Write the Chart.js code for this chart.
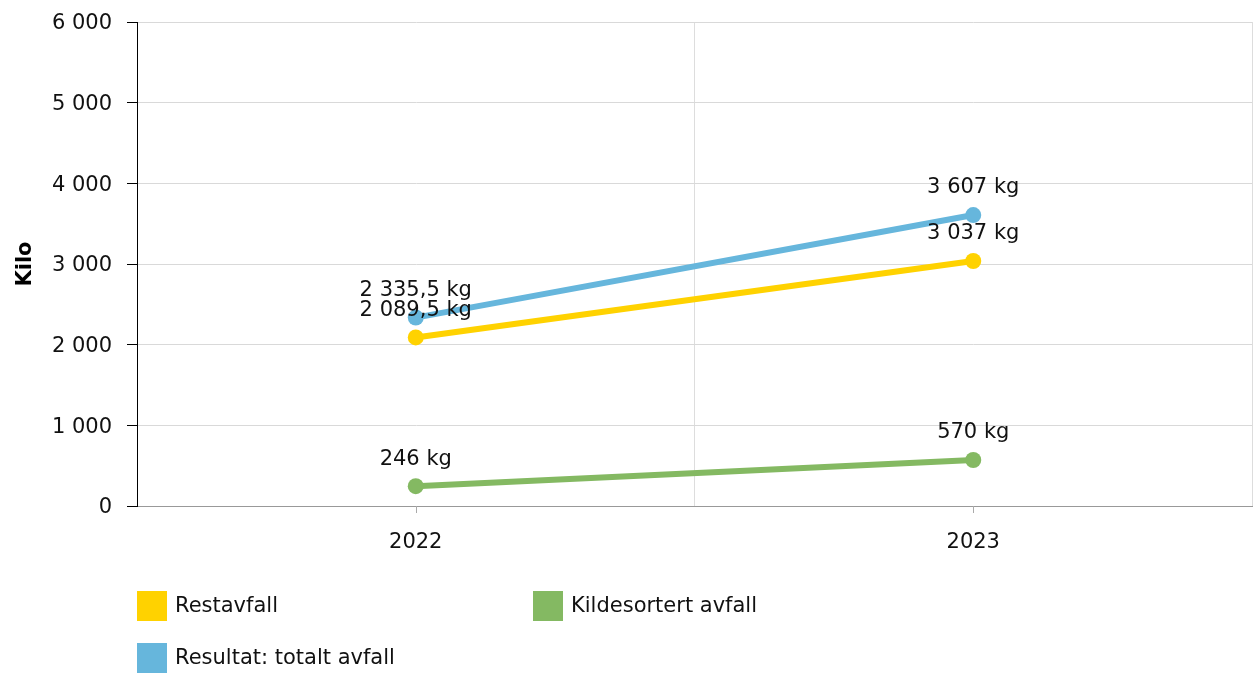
<!DOCTYPE html>
<html>
<head>
<meta charset="utf-8">
<script src="https://cdn.jsdelivr.net/npm/chart.js@4/dist/chart.umd.min.js"></script>
<style>
  html, body { margin: 0; padding: 0; background: #fff; }
  canvas { display: block; }
</style>
</head>
<body>
<canvas id="chart" width="1254" height="673"></canvas>
<script>
const years = ['2022', '2023']
const restavfall = [2089.5, 3037]
const kildesortert = [246, 570]
const totalt = [2335.5, 3607]
const yTicks = [0, 1000, 2000, 3000, 4000, 5000, 6000]

const FONT = '"DejaVu Sans", Verdana, sans-serif'
const SIZE = 21

// 2 335,5 style numbers
function fmt(v) {
  const parts = String(v).split('.')
  const int = parts[0].replace(/\B(?=(\d{3})+(?!\d))/g, ' ')
  return parts[1] ? int + ',' + parts[1] : int
}

const valueLabels = {
  id: 'valueLabels',
  afterDatasetsDraw(chart) {
    const ctx = chart.ctx
    ctx.save()
    ctx.font = SIZE + 'px ' + FONT
    ctx.fillStyle = '#111'
    ctx.textAlign = 'center'
    ctx.textBaseline = 'middle'
    chart.data.datasets.forEach((ds, i) => {
      chart.getDatasetMeta(i).data.forEach((pt, j) => {
        ctx.fillText(fmt(ds.data[j]) + ' kg', pt.x, pt.y - 27)
      })
    })
    ctx.restore()
  },
}

// tick marks under the categories + legend in two columns
const extras = {
  id: 'extras',
  afterDraw(chart) {
    const ctx = chart.ctx
    const x = chart.scales.x
    ctx.save()
    ctx.strokeStyle = '#aaa'
    ctx.lineWidth = 1
    years.forEach((y, i) => {
      const px = Math.round(x.getPixelForValue(i)) + 0.5
      ctx.beginPath()
      ctx.moveTo(px, x.top)
      ctx.lineTo(px, x.top + 7)
      ctx.stroke()
    })

    const slots = [[137, 591], [533, 591], [137, 643]]
    ctx.font = SIZE + 'px ' + FONT
    ctx.textBaseline = 'middle'
    ctx.textAlign = 'left'
    chart.data.datasets.forEach((ds, i) => {
      const [lx, ly] = slots[i]
      ctx.fillStyle = ds.borderColor
      ctx.fillRect(lx, ly, 30, 30)
      ctx.fillStyle = '#111'
      ctx.fillText(ds.label, lx + 38, ly + 16)
    })
    ctx.restore()
  },
}

function series(label, data, color) {
  return {
    label,
    data,
    borderColor: color,
    backgroundColor: color,
    borderWidth: 6,
    pointRadius: 8,
    pointHoverRadius: 8,
    pointBorderWidth: 0,
    tension: 0,
  }
}

new Chart(document.getElementById('chart'), {
  type: 'line',
  data: {
    labels: years,
    datasets: [
      series('Restavfall', restavfall, '#FFD200'),
      series('Kildesortert avfall', kildesortert, '#84B962'),
      series('Resultat: totalt avfall', totalt, '#66B6DC'),
    ],
  },
  options: {
    responsive: false,
    animation: false,
    layout: { autoPadding: false, padding: { top: 22, right: 2, left: 0, bottom: 0 } },
    plugins: {
      legend: { display: false },
      tooltip: { enabled: false },
    },
    scales: {
      x: {
        offset: true,
        grid: { offset: true, color: '#ddd', drawTicks: false },
        border: { color: '#999' },
        ticks: { color: '#111', font: { family: FONT, size: SIZE }, padding: 24 },
        afterFit: (s) => {
          s.height = 673 - 506 - 22 + 22
          s.paddingLeft = 0
          s.paddingRight = 0
        },
      },
      y: {
        min: 0,
        max: 6000,
        afterBuildTicks: (s) => { s.ticks = yTicks.map((v) => ({ value: v })) },
        grid: { color: '#d9d9d9', tickColor: '#000', tickLength: 10 },
        border: { color: '#000' },
        ticks: {
          color: '#111',
          font: { family: FONT, size: SIZE },
          padding: 15,
          labelOffset: 2,
          callback: (v) => fmt(v),
        },
        title: {
          display: true,
          text: 'Kilo',
          color: '#000',
          font: { family: FONT, size: SIZE, weight: 'bold' },
          padding: { top: 13, bottom: 0 },
        },
        afterFit: (s) => {
          s.width = 137
          s.paddingTop = 0
          s.paddingBottom = 0
        },
      },
    },
  },
  plugins: [valueLabels, extras],
})
</script>
</body>
</html>
